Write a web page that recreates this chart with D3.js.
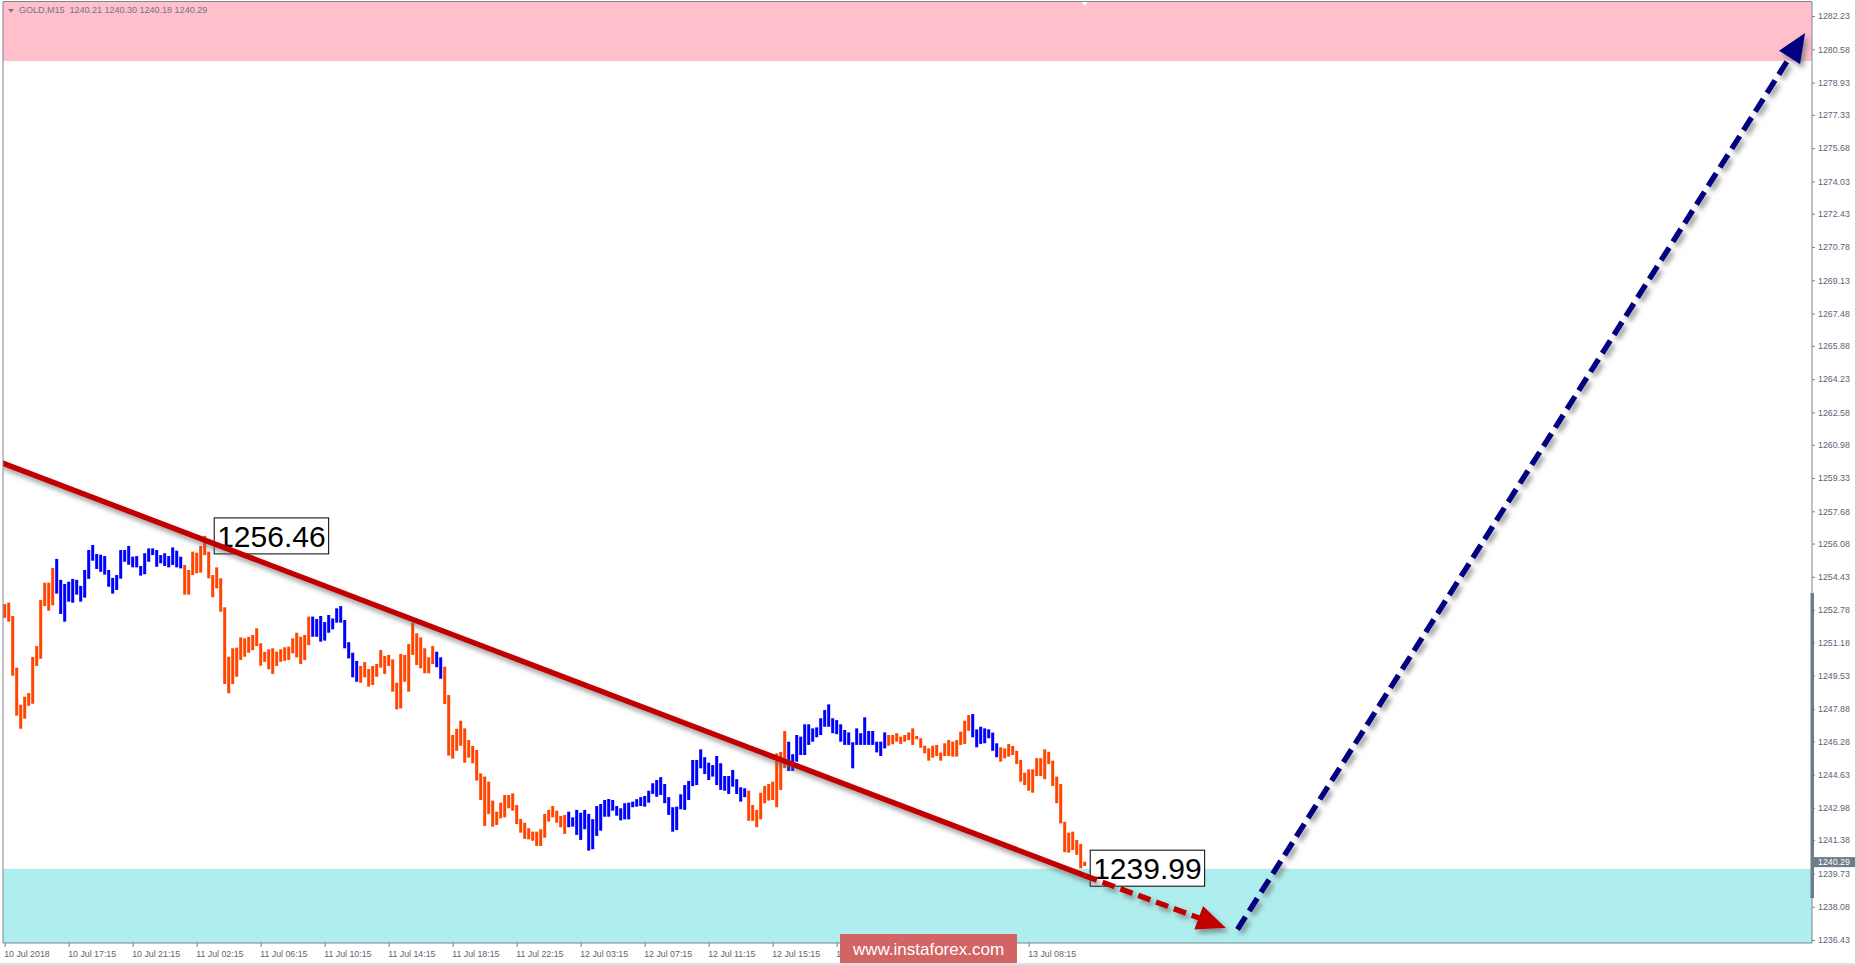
<!DOCTYPE html>
<html><head><meta charset="utf-8">
<script src="https://cdnjs.cloudflare.com/ajax/libs/d3/7.8.5/d3.min.js"></script>
<style>html,body{margin:0;padding:0;background:#fff;overflow:hidden}</style>
</head><body><svg id="chart" width="1857" height="965"></svg>
<script>
const symbolInfo = "GOLD,M15  1240.21 1240.30 1240.18 1240.29";
const barHigh = [1253.08,1253.15,1252.49,1249.93,1248.09,1248.49,1248.67,1250.46,1251.00,1253.28,
1254.14,1254.14,1254.87,1255.32,1254.28,1254.08,1254.19,1254.33,1254.28,1253.98,
1254.77,1255.76,1256.01,1255.56,1255.53,1255.46,1254.77,1254.38,1254.52,1255.76,
1255.76,1255.96,1255.43,1255.46,1254.97,1255.60,1255.84,1255.84,1255.76,1255.51,
1255.60,1255.46,1255.89,1255.73,1255.43,1255.02,1254.77,1255.68,1255.63,1255.96,
1256.46,1255.68,1254.52,1254.90,1254.36,1252.92,1250.47,1250.89,1250.92,1251.43,
1251.38,1251.46,1251.55,1251.88,1251.14,1250.71,1250.84,1250.89,1250.72,1250.84,
1250.94,1250.97,1251.38,1251.66,1251.46,1251.55,1252.46,1252.46,1252.34,1252.49,
1252.19,1252.54,1252.37,1252.87,1252.98,1252.29,1251.19,1250.67,1250.26,1250.01,
1250.21,1249.86,1250.01,1250.11,1250.80,1250.51,1250.56,1250.34,1249.18,1250.61,
1250.56,1251.10,1252.16,1251.63,1251.43,1250.89,1250.44,1251.00,1250.72,1250.44,
1249.98,1248.57,1246.59,1246.90,1247.30,1246.92,1246.34,1246.05,1245.85,1244.69,
1244.53,1244.28,1243.34,1242.79,1243.24,1243.62,1243.62,1243.70,1243.12,1242.43,
1242.24,1241.97,1241.80,1241.80,1241.92,1242.68,1242.88,1243.07,1242.84,1242.58,
1242.63,1242.79,1242.51,1242.88,1242.74,1242.88,1242.68,1242.42,1243.07,1243.17,
1243.37,1243.42,1243.37,1243.07,1242.96,1243.21,1243.24,1243.29,1243.41,1243.51,
1243.57,1243.83,1244.20,1244.36,1244.50,1244.16,1243.51,1243.01,1243.04,1243.65,
1244.11,1244.31,1245.35,1245.35,1245.88,1245.49,1245.22,1245.10,1245.55,1245.19,
1244.56,1244.56,1244.86,1244.40,1244.00,1243.95,1243.83,1243.12,1242.88,1243.73,
1244.06,1244.16,1244.28,1245.68,1245.75,1246.79,1246.26,1245.64,1246.59,1246.51,
1247.12,1247.12,1246.92,1246.97,1247.42,1247.83,1248.11,1247.42,1247.33,1247.12,
1246.84,1246.72,1246.23,1246.92,1246.68,1247.47,1246.79,1246.79,1246.26,1246.26,
1246.72,1246.59,1246.59,1246.68,1246.51,1246.59,1246.72,1246.92,1246.54,1246.43,
1246.06,1245.93,1246.06,1246.10,1245.72,1246.18,1246.34,1246.26,1246.34,1246.76,
1247.30,1247.58,1247.63,1246.87,1247.00,1246.92,1246.87,1246.71,1246.18,1245.98,
1245.93,1246.15,1246.05,1245.81,1245.35,1244.72,1244.89,1244.89,1245.44,1245.44,
1245.88,1245.76,1245.32,1244.53,1244.16,1242.29,1241.75,1241.80,1241.39,1241.19,
1240.31];
const barLow = [1252.40,1252.21,1249.53,1247.55,1246.90,1247.40,1248.04,1248.14,1250.01,1250.37,
1252.98,1252.75,1253.02,1253.60,1252.59,1252.21,1253.20,1253.15,1253.55,1253.20,
1253.40,1254.33,1255.23,1254.82,1254.68,1254.54,1253.94,1253.60,1253.78,1254.34,
1255.18,1255.03,1254.90,1254.90,1254.49,1254.56,1255.18,1255.51,1254.93,1255.10,
1254.97,1254.90,1255.02,1254.90,1254.85,1253.55,1253.55,1254.52,1254.61,1254.64,
1255.51,1254.36,1253.42,1253.86,1252.70,1249.12,1248.66,1249.12,1249.48,1250.31,
1250.47,1250.67,1250.80,1251.00,1250.03,1250.22,1249.85,1249.62,1250.01,1250.22,
1250.27,1250.31,1250.64,1250.44,1250.11,1250.31,1251.05,1251.46,1251.46,1251.22,
1251.27,1251.66,1251.83,1252.16,1252.16,1250.89,1250.39,1249.45,1249.23,1249.18,
1249.45,1248.99,1249.07,1249.48,1249.93,1249.62,1250.01,1248.74,1247.86,1247.91,
1249.23,1248.74,1250.56,1250.06,1249.90,1249.65,1249.65,1250.11,1249.95,1249.38,
1248.13,1245.57,1245.42,1245.81,1246.06,1245.22,1245.47,1245.19,1244.33,1243.37,
1242.08,1242.68,1242.05,1242.13,1242.46,1242.51,1242.96,1242.84,1242.18,1241.75,
1241.44,1241.42,1241.35,1241.09,1241.09,1241.50,1242.30,1242.51,1242.24,1242.02,
1241.69,1242.02,1242.05,1241.64,1241.39,1241.92,1240.86,1240.93,1241.59,1241.85,
1242.54,1242.54,1242.84,1242.59,1242.36,1242.41,1242.41,1243.01,1243.04,1243.07,
1243.04,1243.24,1243.67,1243.53,1243.62,1243.21,1242.63,1241.80,1241.88,1242.91,
1242.88,1243.37,1244.06,1244.11,1244.94,1244.66,1244.36,1244.53,1244.11,1243.87,
1243.83,1243.67,1244.03,1243.67,1243.29,1243.51,1242.34,1242.34,1242.02,1242.41,
1243.21,1243.34,1243.37,1243.01,1243.87,1244.96,1244.81,1244.81,1245.27,1245.60,
1245.60,1246.10,1246.26,1246.48,1246.59,1247.00,1247.00,1246.68,1246.63,1246.26,
1246.10,1246.10,1244.94,1246.10,1246.10,1246.10,1246.10,1246.10,1245.73,1245.55,
1245.93,1246.06,1246.13,1246.26,1246.15,1246.26,1246.34,1246.10,1246.38,1245.96,
1245.68,1245.32,1245.47,1245.55,1245.32,1245.55,1245.55,1245.52,1245.52,1246.10,
1246.15,1246.80,1246.48,1245.98,1246.15,1246.18,1246.43,1245.81,1245.49,1245.27,
1245.44,1245.52,1245.60,1245.15,1244.28,1244.11,1243.83,1243.73,1244.56,1244.56,
1244.40,1245.15,1244.06,1243.21,1242.21,1240.78,1240.76,1240.89,1240.65,1239.99,
1240.10];
// wave colouring: [first bar, last bar, direction]
const waveSegments = [[0,12,"down"],[13,44,"up"],[45,76,"down"],[77,88,"up"],[89,107,"down"],
[108,109,"up"],[110,140,"down"],[141,185,"up"],[186,195,"down"],[196,220,"up"],
[221,241,"down"],[242,248,"up"],[249,270,"down"]];
const priceTicks = [1282.23,1280.58,1278.93,1277.33,1275.68,1274.03,1272.43,1270.78,1269.13,1267.48,
1265.88,1264.23,1262.58,1260.98,1259.33,1257.68,1256.08,1254.43,1252.78,1251.18,
1249.53,1247.88,1246.28,1244.63,1242.98,1241.38,1239.73,1238.08,1236.43];
const timeLabels = ["10 Jul 2018","10 Jul 17:15","10 Jul 21:15","11 Jul 02:15","11 Jul 06:15",
"11 Jul 10:15","11 Jul 14:15","11 Jul 18:15","11 Jul 22:15","12 Jul 03:15","12 Jul 07:15",
"12 Jul 11:15","12 Jul 15:15","12 Jul 19:15","12 Jul 23:15","13 Jul 04:15","13 Jul 08:15"];
const timeLabelBars = [0,16,32,48,64,80,96,112,128,144,160,176,192,208,224,240,256];
const currentPrice = 1240.29;
const resistanceZone = [1280.00, 1283.00];
const supportZone = [1236.20, 1239.96];
const extremeLabels = [{bar:50, price:1256.46}, {bar:269, price:1239.99}];
const trendLine = [{bar:-1.2, price:1260.12},{bar:270, price:1239.62}];
const downArrow = [{bar:270, price:1239.62},{bar:305.3, price:1237.03}];
const upArrow = [{bar:308.2, price:1236.95},{bar:450.1, price:1281.39}];
const axisRangeBar = [1238.51, 1253.63];
const watermark = "www.instaforex.com";

const W = 1857, H = 965;
const plot = {left:3, top:2, right:1812, bottom:943};
const FONT = "'Liberation Sans', Arial, sans-serif";
const svg = d3.select("#chart");
const x = d3.scaleLinear().domain([0, 270]).range([4.7, 1084.7]);
const y = d3.scaleLinear().domain([1236.43, 1282.23]).range([940, 16]);

const defs = svg.append("defs");
defs.append("clipPath").attr("id","plotclip").append("rect")
  .attr("x",plot.left).attr("y",plot.top).attr("width",plot.right-plot.left).attr("height",plot.bottom-plot.top);
const f = defs.append("filter").attr("id","shadow").attr("x","-10%").attr("y","-10%").attr("width","130%").attr("height","130%");
f.append("feDropShadow").attr("dx",3).attr("dy",4).attr("stdDeviation",2.5).attr("flood-color","#666").attr("flood-opacity",0.65);

svg.append("rect").attr("width",W).attr("height",H).attr("fill","#fff");
const g = svg.append("g").attr("clip-path","url(#plotclip)");

// zones
g.append("rect").attr("x",plot.left).attr("width",plot.right-plot.left)
  .attr("y",y(resistanceZone[1])).attr("height",y(resistanceZone[0])-y(resistanceZone[1])).attr("fill","#FFC0CB");
g.append("rect").attr("x",plot.left).attr("width",plot.right-plot.left)
  .attr("y",y(supportZone[1])).attr("height",y(supportZone[0])-y(supportZone[1])).attr("fill","#AFEEEE");

// bars
const bars = barHigh.map((h,i)=>({i, h, l:barLow[i], dir: waveSegments.find(s=>i>=s[0]&&i<=s[1])[2]}));
g.selectAll("rect.bar").data(bars).enter().append("rect").attr("class","bar")
  .attr("x",d=>x(d.i)-1.5).attr("width",3)
  .attr("y",d=>y(d.h)).attr("height",d=>Math.max(1,y(d.l)-y(d.h)))
  .attr("fill",d=>d.dir==="up"?"#0000FF":"#FF4500");

// extreme labels (white boxes)
extremeLabels.forEach(d=>{
  const bx = x(d.bar)+9.5, by = y(d.price);
  const r = g.append("rect");
  const t = g.append("text").attr("x",bx+3).attr("y",by+11).attr("font-family",FONT)
    .attr("font-size",30).attr("fill","#000").text(d.price.toFixed(2));
  const w = t.node().getComputedTextLength();
  r.attr("x",bx).attr("y",by-18).attr("width",w+6).attr("height",36)
    .attr("fill","#fff").attr("stroke","#000").attr("stroke-width",1);
});

// trend line
const line = d3.line().x(d=>x(d.bar)).y(d=>y(d.price));
g.append("path").datum(trendLine).attr("d",line).attr("stroke","#C00000").attr("stroke-width",5.5)
  .attr("fill","none").attr("filter","url(#shadow)");

function arrow(pts, color, dash){
  const grp = g.append("g").attr("filter","url(#shadow)");
  const x0=x(pts[0].bar), y0=y(pts[0].price), x1=x(pts[1].bar), y1=y(pts[1].price);
  const dx=x1-x0, dy=y1-y0, len=Math.hypot(dx,dy), ux=dx/len, uy=dy/len;
  const L=29, Wd=12.5;
  const bx=x1-ux*L, by=y1-uy*L;
  grp.append("line").attr("x1",x0).attr("y1",y0).attr("x2",bx+ux*2).attr("y2",by+uy*2)
    .attr("stroke",color).attr("stroke-width",5.5).attr("stroke-dasharray",dash);
  grp.append("polygon").attr("points",[[x1,y1],[bx-uy*Wd,by+ux*Wd],[bx+uy*Wd,by-ux*Wd]].map(p=>p.join(",")).join(" "))
    .attr("fill",color);
}
arrow(downArrow, "#C00000", "13,6");
arrow(upArrow, "#000080", "15,7");

// frame
svg.append("line").attr("x1",plot.left).attr("x2",plot.left).attr("y1",plot.top).attr("y2",plot.bottom).attr("stroke","#7d8591");
svg.append("line").attr("x1",plot.left).attr("x2",plot.right).attr("y1",plot.top-0.5).attr("y2",plot.top-0.5).attr("stroke","#7d8591");
svg.append("line").attr("x1",plot.left).attr("x2",plot.right).attr("y1",plot.bottom).attr("y2",plot.bottom).attr("stroke","#7d8591");
svg.append("line").attr("x1",plot.right).attr("x2",plot.right).attr("y1",plot.top).attr("y2",plot.bottom).attr("stroke","#7d8591");

// price axis
const yAxis = svg.append("g").attr("transform",`translate(${plot.right},0)`)
  .call(d3.axisRight(y).tickValues(priceTicks).tickSize(3).tickPadding(3).tickFormat(d=>d.toFixed(2)));
yAxis.select(".domain").remove();
yAxis.selectAll("line").attr("stroke","#7d8591");
yAxis.selectAll("text").attr("font-family",FONT).attr("font-size",8.8).attr("fill","#5b6473");
svg.append("rect").attr("x",plot.right-1.5).attr("width",3.5).attr("y",y(axisRangeBar[1]))
  .attr("height",y(axisRangeBar[0])-y(axisRangeBar[1])).attr("fill","#6f7c8b");
svg.append("rect").attr("x",plot.right+1).attr("y",y(currentPrice)-5).attr("width",43).attr("height",10).attr("fill","#6f7c8b");
svg.append("text").attr("x",plot.right+6).attr("y",y(currentPrice)+3.3).attr("font-family",FONT)
  .attr("font-size",8.8).attr("fill","#fff").text(currentPrice.toFixed(2));

// time axis
const xAxis = svg.append("g").attr("transform",`translate(0,${plot.bottom})`)
  .call(d3.axisBottom(x).tickValues(timeLabelBars).tickSize(4).tickPadding(4).tickFormat((d,i)=>timeLabels[i]));
xAxis.select(".domain").remove();
xAxis.selectAll("line").attr("stroke","#7d8591");
xAxis.selectAll("text").attr("font-family",FONT).attr("font-size",8.8).attr("fill","#5b6473")
  .attr("text-anchor","start").attr("dx",-1);

// header
svg.append("polygon").attr("points","8,9 14,9 11,12.5").attr("fill","#6e7681");
svg.append("text").attr("x",19).attr("y",13).attr("font-family",FONT).attr("font-size",9)
  .attr("fill","#6e7681").attr("xml:space","preserve").style("white-space","pre").text(symbolInfo);
svg.append("polygon").attr("points",`${x(270)-3},2 ${x(270)+3},2 ${x(270)},6`).attr("fill","#fff");

// watermark
svg.append("rect").attr("x",840).attr("y",934).attr("width",177).attr("height",30).attr("fill","#D26464");
svg.append("text").attr("x",928.5).attr("y",955).attr("text-anchor","middle").attr("font-family",FONT)
  .attr("font-size",17).attr("fill","#fff").text(watermark);

// outer borders
svg.append("rect").attr("x",1855).attr("y",0).attr("width",2).attr("height",H).attr("fill","#d0d0d0");
svg.append("rect").attr("x",0).attr("y",963).attr("width",W).attr("height",2).attr("fill","#e0e0e0");
</script></body></html>
